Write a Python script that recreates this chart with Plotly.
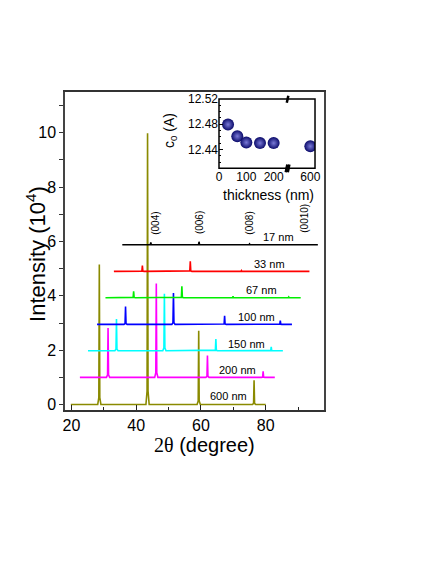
import plotly.graph_objects as go

# ---------------- data ----------------
series_names = ["600 nm", "200 nm", "150 nm", "100 nm", "67 nm", "33 nm", "17 nm"]
series_colors = ["#8a8a00", "#ff00ff", "#00ffff", "#0000ff", "#00ee00", "#ff0000", "#000000"]
baselines = [0.0, 1.0, 1.98, 2.95, 3.93, 4.90, 5.88]
start_2theta = [19.8, 22.6, 25.1, 27.9, 30.5, 33.1, 35.7]
end_2theta = [80.0, 82.8, 85.3, 88.1, 90.8, 93.5, 96.1]
peak_pos = [
    [28.6, 43.5, 59.3, 76.4],
    [31.3, 46.2, 62.0, 79.2],
    [33.9, 48.7, 64.6, 81.7],
    [36.7, 51.5, 67.3, 84.5],
    [39.2, 54.1, 69.9, 87.1],
    [41.9, 56.7, 72.5, 89.6],
    [44.5, 59.4, 75.0, 90.5],
]
peak_top = [
    [5.15, 9.98, 2.72, 0.89],
    [2.82, 4.45, 1.80, 1.22],
    [3.15, 4.08, 2.41, 2.12],
    [3.61, 4.10, 3.27, 3.09],
    [4.17, 4.35, 3.98, 3.96],
    [5.11, 5.27, 4.93, 4.92],
    [5.97, 5.99, 5.91, 5.90],
]
label_x = [68.5, 71.4, 74.2, 77.1, 78.6, 81.2, 83.8]
label_y = [0.30, 1.29, 2.24, 3.23, 4.23, 5.18, 6.17]

hkl_labels = ["(004)", "(006)", "(008)", "(0010)"]
hkl_x = [45.7, 59.4, 75.0, 92.0]
hkl_y = [6.18, 6.18, 6.18, 6.25]

thickness = [33, 67, 100, 150, 200, 600]
c0 = [12.4795, 12.461, 12.451, 12.450, 12.450, 12.445]

FONT = "Liberation Sans, Arial, sans-serif"

fig = go.Figure()

# ---------------- XRD curves ----------------
for name, col, b, s, e, pp, pt in zip(series_names, series_colors, baselines,
                                      start_2theta, end_2theta, peak_pos, peak_top):
    xs, ys = [s], [b]
    for p, t in zip(pp, pt):
        foot = b + 0.05 * (t - b)
        xs += [p - 0.5, p - 0.15, p, p + 0.15, p + 0.5]
        ys += [b, foot, t, foot, b]
    xs.append(e)
    ys.append(b)
    fig.add_trace(go.Scatter(x=xs, y=ys, mode="lines", name=name,
                             line=dict(color=col, width=1.6), showlegend=False,
                             xaxis="x", yaxis="y"))

for name, lx, ly in zip(series_names, label_x, label_y):
    fig.add_annotation(x=lx, y=ly, xref="x", yref="y", text=name, showarrow=False,
                       xanchor="center", yanchor="middle",
                       font=dict(size=11, color="black", family=FONT))

for t, hx, hy in zip(hkl_labels, hkl_x, hkl_y):
    fig.add_annotation(x=hx, y=hy, xref="x", yref="y", text=t, showarrow=False,
                       textangle=-90, xanchor="center", yanchor="bottom",
                       font=dict(size=10, color="black", family=FONT))

# ---------------- inset ----------------
left_t = [t for t in thickness if t < 300]
left_c = [c for t, c in zip(thickness, c0) if t < 300]
right_t = [t for t in thickness if t >= 300]
right_c = [c for t, c in zip(thickness, c0) if t >= 300]
marker = dict(size=12, color="#0a0a6a", gradient=dict(type="radial", color="#7a7ad8"),
              line=dict(width=0))
fig.add_trace(go.Scatter(x=left_t, y=left_c, mode="markers", marker=marker,
                         showlegend=False, xaxis="x2", yaxis="y2"))
fig.add_trace(go.Scatter(x=right_t, y=right_c, mode="markers", marker=marker,
                         showlegend=False, xaxis="x3", yaxis="y2"))

ix0, ixb, ix1 = 0.5946, 0.8583, 0.9653
iy0, iy1 = 0.760, 0.978

fig.update_layout(
    width=428, height=556,
    margin=dict(l=57, r=112, t=84, b=154),
    paper_bgcolor="white", plot_bgcolor="white",
    font=dict(family=FONT, color="black"),
    xaxis=dict(range=[18, 98], tickvals=[20, 40, 60, 80], ticks="inside", ticklen=5,
               tickwidth=1.2, tickcolor="#222", showline=True, mirror=True,
               linecolor="#333", linewidth=1.5, showgrid=False, zeroline=False,
               tickfont=dict(size=16),
               minor=dict(tickvals=[30, 50, 70, 90], ticks="inside", ticklen=3,
                          tickcolor="#222")),
    yaxis=dict(range=[-0.2, 11.5], tickvals=[0, 2, 4, 6, 8, 10], ticks="outside",
               ticklen=4, tickwidth=1.2, tickcolor="#333", showline=True, mirror=True,
               linecolor="#444", linewidth=1.5, showgrid=False, zeroline=False,
               tickfont=dict(size=16),
               minor=dict(tickvals=[1, 3, 5, 7, 9, 11], ticks="outside", ticklen=4,
                          tickcolor="#333")),
    xaxis2=dict(domain=[ix0, ixb], range=[0, 250], anchor="y2",
                tickvals=[0, 100, 200], ticks="", showline=False, showgrid=False,
                zeroline=False, tickfont=dict(size=12)),
    xaxis3=dict(domain=[ixb, ix1], range=[516, 617], anchor="y2",
                tickvals=[600], ticks="", showline=False, showgrid=False,
                zeroline=False, tickfont=dict(size=12)),
    yaxis2=dict(domain=[iy0, iy1], range=[12.41, 12.52], anchor="x2",
                tickvals=[12.44, 12.48, 12.52], ticktext=["12.44", "12.48", "12.52"],
                ticks="inside", ticklen=4, tickcolor="black", showline=False,
                showgrid=False, zeroline=False, tickfont=dict(size=12),
                minor=dict(dtick=0.01, ticks="inside", ticklen=2, tickcolor="black")),
)

# inset frame and axis-break marks
fig.add_shape(type="rect", xref="paper", yref="paper", x0=ix0, x1=ix1, y0=iy0, y1=iy1,
              line=dict(color="black", width=1.5), fillcolor="rgba(0,0,0,0)")
fig.add_shape(type="line", xref="paper", yref="paper", x0=ixb - 0.002, x1=ixb + 0.004,
              y0=iy1 - 0.012, y1=iy1 + 0.01, line=dict(color="black", width=2.5))
fig.add_shape(type="line", xref="paper", yref="paper", x0=ixb - 0.006, x1=ixb,
              y0=iy0 - 0.012, y1=iy0 + 0.012, line=dict(color="black", width=2.5))
fig.add_shape(type="line", xref="paper", yref="paper", x0=ixb + 0.002, x1=ixb + 0.008,
              y0=iy0 - 0.012, y1=iy0 + 0.012, line=dict(color="black", width=2.5))

# titles
fig.add_annotation(x=-0.113, y=0.49, xref="paper", yref="paper",
                   text="Intensity (10<sup>4</sup>)", textangle=-90, showarrow=False,
                   xanchor="center", yanchor="middle",
                   font=dict(size=22, family=FONT))
fig.add_annotation(x=0.537, y=-0.11, xref="paper", yref="paper",
                   text="<span style='font-family:Liberation Serif'>2θ</span> (degree)",
                   xanchor="center", yanchor="middle",
                   showarrow=False, font=dict(size=20, family=FONT))
fig.add_annotation(x=0.784, y=0.676, xref="paper", yref="paper",
                   text="thickness (nm)", showarrow=False,
                   xanchor="center", yanchor="middle",
                   font=dict(size=14, family=FONT))
fig.add_annotation(x=0.405, y=0.88, xref="paper", yref="paper",
                   text="c<sub>0</sub> (A)", textangle=-90, showarrow=False,
                   xanchor="center", yanchor="middle",
                   font=dict(size=14, family=FONT))

fig.write_html("out.html")
